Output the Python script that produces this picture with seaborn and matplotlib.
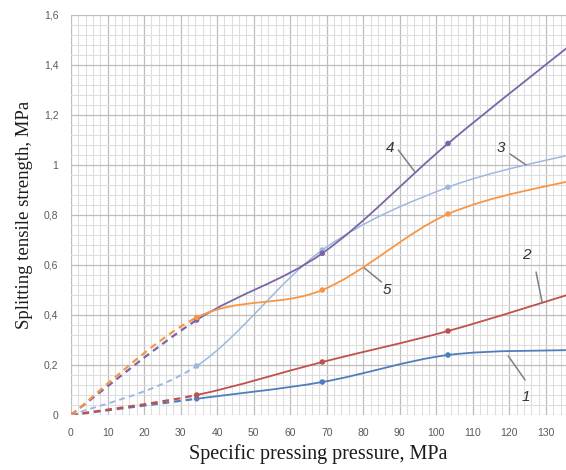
import numpy as np
import pandas as pd
import matplotlib
matplotlib.use("Agg")
import matplotlib.pyplot as plt
from matplotlib.path import Path
from matplotlib.patches import PathPatch
from matplotlib.ticker import MultipleLocator, FixedLocator
import seaborn as sns

# ---- data ----
pressure = [0, 34.4, 68.8, 103.2, 137.6]
series_names = ["1", "2", "3", "4", "5"]
s1 = [0, 0.065, 0.132, 0.240, 0.260]
s2 = [0, 0.080, 0.212, 0.336, 0.488]
s3 = [0, 0.196, 0.660, 0.911, 1.045]
s4 = [0, 0.380, 0.647, 1.086, 1.490]
s5 = [0, 0.390, 0.500, 0.804, 0.940]
colors = ["#4F7EBE", "#C0504D", "#9DB8E0", "#7A65A6", "#F79646"]

x_ticks = [0, 10, 20, 30, 40, 50, 60, 70, 80, 90, 100, 110, 120, 130]
y_ticks = [0, 0.2, 0.4, 0.6, 0.8, 1.0, 1.2, 1.4, 1.6]
y_tick_labels = ["0", "0,2", "0,4", "0,6", "0,8", "1", "1,2", "1,4", "1,6"]

# curve label positions (annotation text, leader start, leader end)
label_text = ["1", "2", "3", "4", "5"]
label_xy = [(124.6, 0.072), (124.6, 0.64), (117.8, 1.068), (87.4, 1.068), (86.6, 0.50)]
leader_from = [(124.3, 0.140), (129.0, 0.448), (124.6, 1.000), (94.0, 0.975), (80.3, 0.588)]
leader_to = [(119.7, 0.236), (127.3, 0.572), (120.2, 1.044), (89.6, 1.060), (85.0, 0.532)]

all_series = [s1, s2, s3, s4, s5]

df = pd.DataFrame({
    "pressure": np.tile(pressure, len(all_series)),
    "strength": np.concatenate(all_series),
    "curve": np.repeat(series_names, len(pressure)),
})

sns.set_theme(style="white")
plt.rcParams["font.family"] = ["Liberation Sans", "DejaVu Sans"]

fig = plt.figure(figsize=(5.66, 4.70), dpi=100)
ax = fig.add_axes([71 / 566, 55 / 470, 495 / 566, 400 / 470])


def smooth_segments(xs, ys):
    """Excel-style smoothed line: cubic Bezier per segment."""
    p = np.column_stack([xs, ys]).astype(float)
    n = len(p)
    segs = []
    for i in range(n - 1):
        p0 = p[i - 1] if i > 0 else p[i]
        p1, p2 = p[i], p[i + 1]
        p3 = p[i + 2] if i + 2 < n else p[i + 1]
        c1 = p1 + (p2 - p0) / 6.0
        c2 = p2 - (p3 - p1) / 6.0
        segs.append((p1, c1, c2, p2))
    return segs


for ys, col, name in zip(all_series, colors, series_names):
    segs = smooth_segments(pressure, ys)
    lw = 1.1 if name == "3" else 1.3
    # first segment dashed
    a, b, c, d = segs[0]
    dash = PathPatch(Path([a, b, c, d], [Path.MOVETO, Path.CURVE4, Path.CURVE4, Path.CURVE4]),
                     fill=False, edgecolor=col, lw=lw + 0.3, linestyle=(0, (3, 2.2)), zorder=3)
    ax.add_patch(dash)
    verts = [segs[1][0]]
    codes = [Path.MOVETO]
    for a, b, c, d in segs[1:]:
        verts += [b, c, d]
        codes += [Path.CURVE4] * 3
    ax.add_patch(PathPatch(Path(verts, codes), fill=False, edgecolor=col, lw=lw, zorder=3))

sns.scatterplot(data=df, x="pressure", y="strength", hue="curve", palette=colors,
                s=16, linewidth=0, legend=False, ax=ax, zorder=4, clip_on=True)

for t, xy, f, to in zip(label_text, label_xy, leader_from, leader_to):
    ax.plot([f[0], to[0]], [f[1], to[1]], color="#7F7F7F", lw=1.1, zorder=5)
    ax.text(xy[0], xy[1], t, ha="center", va="center", fontsize=11,
            style="italic", color="#333333", zorder=6)

ax.set_xlim(0, 135.5)
ax.set_ylim(0, 1.6)
ax.xaxis.set_major_locator(FixedLocator(x_ticks))
ax.set_xticklabels([str(v) for v in x_ticks])
ax.yaxis.set_major_locator(FixedLocator(y_ticks))
ax.set_yticklabels(y_tick_labels)
ax.xaxis.set_minor_locator(MultipleLocator(2))
ax.yaxis.set_minor_locator(MultipleLocator(0.04))
ax.grid(which="major", color="#BDBDBD", lw=0.9)
ax.grid(which="minor", color="#DEDEDE", lw=0.8)
ax.set_axisbelow(True)
for sp in ax.spines.values():
    sp.set_visible(False)
ax.tick_params(which="both", length=0)
ax.tick_params(axis="x", pad=9, labelsize=7.5, labelcolor="#595959")
ax.tick_params(axis="y", pad=9, labelsize=7.5, labelcolor="#595959")

ax.set_xlabel("Specific pressing pressure, MPa", family="Liberation Serif",
              fontsize=14.5, color="#1a1a1a", labelpad=5)
ax.set_ylabel("Splitting tensile strength, MPa", family="Liberation Serif",
              fontsize=13.5, color="#1a1a1a", labelpad=8)

fig.savefig("out.png", dpi=100)
